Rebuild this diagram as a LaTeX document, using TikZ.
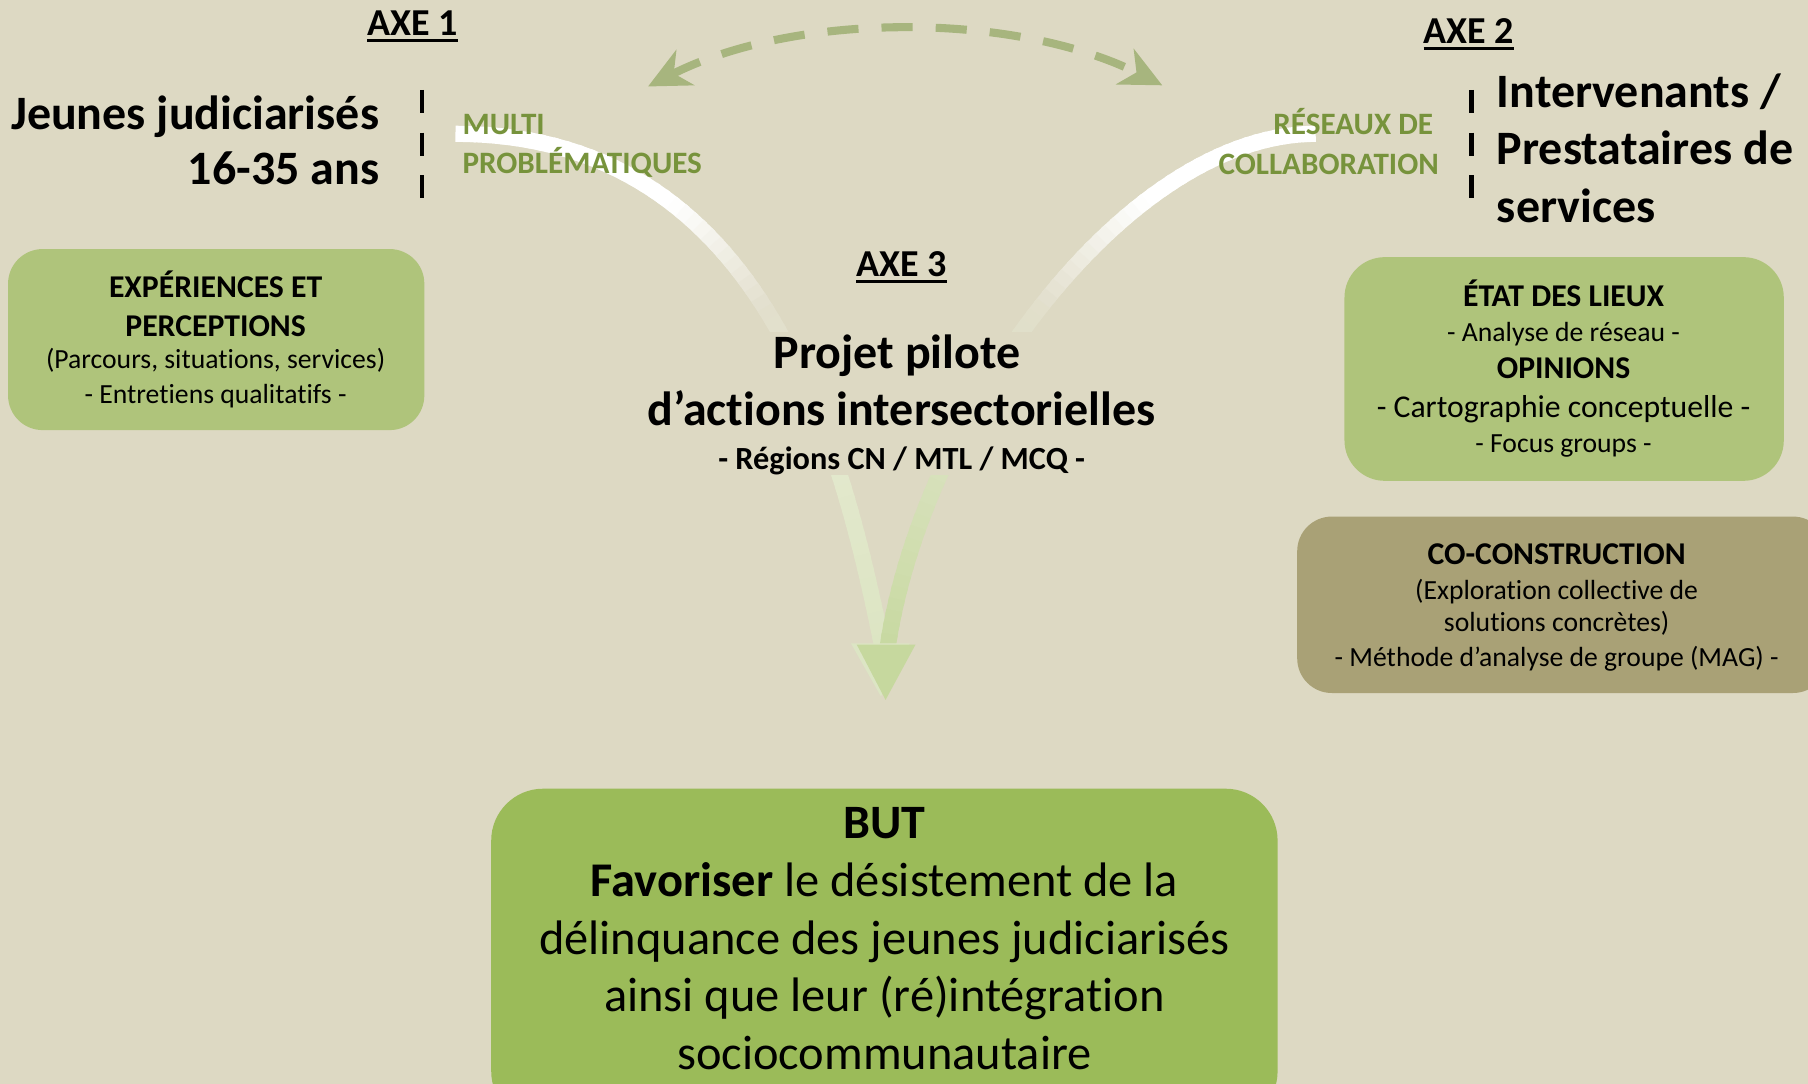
\documentclass[tikz,border=0pt]{standalone}
\usepackage{fontspec}
\setmainfont{Carlito}[Ligatures={NoCommon}]
\usetikzlibrary{arrows.meta}
\definecolor{bg}{HTML}{DDD9C3}
\definecolor{gtext}{HTML}{77933C}
\definecolor{boxlight}{HTML}{AFC47B}
\definecolor{boxbut}{HTML}{9BBB59}
\definecolor{boxco}{HTML}{A9A176}
\definecolor{dashc}{HTML}{A7B57E}
\definecolor{headc}{HTML}{C6D89E}
\definecolor{headl}{HTML}{DCE5C4}
\definecolor{clowA}{HTML}{E3E8CD}
\definecolor{clowB}{HTML}{DCE5C3}
\colorlet{cmid}{bg!85!white}
\newcommand\myfs[2]{\fontsize{#1}{#2}\selectfont}
\newcommand\gradcurveZ[8]{%
  \foreach \i in {0,...,59}{%
    \pgfmathsetmacro\ta{\i/60}%
    \pgfmathsetmacro\tb{min(1,(\i+1.4)/60)}%
    \pgfmathsetmacro\tm{(\i+0.5)/60}%
    \pgfmathsetmacro\ua{1-\ta}%
    \pgfmathsetmacro\ub{1-\tb}%
    \pgfmathsetmacro\xa{\ua*\ua*\ua*#1+3*\ua*\ua*\ta*#3+3*\ua*\ta*\ta*#5+\ta*\ta*\ta*#7}%
    \pgfmathsetmacro\ya{\ua*\ua*\ua*#2+3*\ua*\ua*\ta*#4+3*\ua*\ta*\ta*#6+\ta*\ta*\ta*#8}%
    \pgfmathsetmacro\xb{\ub*\ub*\ub*#1+3*\ub*\ub*\tb*#3+3*\ub*\tb*\tb*#5+\tb*\tb*\tb*#7}%
    \pgfmathsetmacro\yb{\ub*\ub*\ub*#2+3*\ub*\ub*\tb*#4+3*\ub*\tb*\tb*#6+\tb*\tb*\tb*#8}%
    \ifdim\tm pt<0.3pt \colorlet{segc}{white}%
    \else\ifdim\tm pt<0.5pt \pgfmathtruncatemacro\pp{100*(\tm-0.3)/0.2}\colorlet{segc}{cmid!\pp!white}%
    \else\ifdim\tm pt<0.72pt \pgfmathtruncatemacro\pp{100*(\tm-0.5)/0.22}\colorlet{segc}{clowA!\pp!cmid}%
    \else \pgfmathtruncatemacro\pp{100*(\tm-0.72)/0.28}\colorlet{segc}{clowB!\pp!clowA}%
    \fi\fi\fi
    \draw[segc, line width=14pt] (\xa,\ya) -- (\xb,\yb);
  }%
}
\begin{document}
\begin{tikzpicture}[x=1pt,y=-1pt,
  txt/.style={inner sep=0pt, anchor=base},
  bigtxt/.style={txt, font=\myfs{41.6}{50}\bfseries},
  bigreg/.style={txt, font=\myfs{42}{50}},
  axetxt/.style={txt, font=\myfs{33}{40}\bfseries},
  gtxt/.style={txt, font=\myfs{27}{34}\bfseries, text=gtext},
  boxhead/.style={txt, font=\myfs{27.5}{34}\bfseries},
  boxreg/.style={txt, font=\myfs{24}{30}},
  boxshape/.style={inner sep=0pt, draw=none},
  vdash/.style={line width=4pt, dash pattern=on 20pt off 17pt},
  uline/.style={line width=2.5pt},
  tipS/.tip={Stealth[length=36pt,width=34pt,inset=11pt]}
]
\useasboundingbox (0,0) rectangle (1568,940);
\fill[bg] (0,0) rectangle (1568,940);

% dashed double arrow between the axes
\coordinate (dl) at (562,75);
\coordinate (dr) at (1008,74);
\draw[dashc, line width=7pt, dash pattern=on 27pt off 20pt, tipS-tipS]
  (dl) .. controls (690,10) and (880,10) .. (dr);

% curved gradient arrows converging to the goal
\gradcurveZ{395}{116}{655}{116}{727}{370}{765}{560}
\definecolor{clowA}{HTML}{D9E2BF}
\definecolor{clowB}{HTML}{C8D9A1}
\gradcurveZ{1141}{116}{976}{116}{800}{360}{770}{560}
\coordinate (hl1) at (738,558);
\coordinate (hl2) at (789,558);
\coordinate (hl3) at (764,604);
\fill[headl] (hl1) -- (hl2) -- (hl3) -- cycle;
\coordinate (hr1) at (743,559);
\coordinate (hr2) at (794,559);
\coordinate (hr3) at (768,607);
\fill[headc] (hr1) -- (hr2) -- (hr3) -- cycle;

% opaque area of the central text
\fill[bg] (552,288) rectangle (1012,412);

% AXE 1
\node[axetxt] (ax1) at (358,30.6) {AXE 1};
\draw[uline] ([yshift=-4.5pt]ax1.base west) -- ([yshift=-4.5pt]ax1.base east);
\node[bigtxt, anchor=base east] (j1) at (329,112) {Jeunes judiciarisés};
\node[bigtxt, anchor=base east] (j2) at (329,160) {16-35 ans};
\coordinate (v1a) at (366,78);
\coordinate (v1b) at (366,172);
\draw[vdash] (v1a) -- (v1b);
\node[gtxt, anchor=base west] (m1) at (401,116.6) {MULTI};
\node[gtxt, anchor=base west] (m2) at (401,150.6) {PROBLÉMATIQUES};

% AXE 2
\node[axetxt] (ax2) at (1274,37.6) {AXE 2};
\draw[uline] ([yshift=-4.5pt]ax2.base west) -- ([yshift=-4.5pt]ax2.base east);
\node[gtxt, anchor=base east] (r1) at (1243,117) {RÉSEAUX DE};
\node[gtxt, anchor=base east] (r2) at (1248,151) {COLLABORATION};
\coordinate (v2a) at (1276,78);
\coordinate (v2b) at (1276,172);
\draw[vdash] (v2a) -- (v2b);
\node[bigtxt, anchor=base west] (i1) at (1298,93) {Intervenants /};
\node[bigtxt, anchor=base west] (i2) at (1298,143) {Prestataires de};
\node[bigtxt, anchor=base west] (i3) at (1298,193) {services};

% AXE 3
\node[axetxt] (ax3) at (782,239.6) {AXE 3};
\draw[uline] ([yshift=-4.5pt]ax3.base west) -- ([yshift=-4.5pt]ax3.base east);
\node[bigtxt] (p1) at (778,320) {Projet pilote};
\node[bigtxt] (p2) at (782,369) {d’actions intersectorielles};
\node[txt, font=\myfs{28}{34}\bfseries] (p3) at (782,407) {- Régions CN / MTL / MCQ -};

% left box
\node[boxshape, fill=boxlight, rounded corners=30pt, minimum width=361pt, minimum height=157pt] (boxA) at (187.5,294.5) {};
\node[boxhead] (a1) at (187,257.6) {EXPÉRIENCES ET};
\node[boxhead] (a2) at (187,291.6) {PERCEPTIONS};
\node[boxreg] (a3) at (187,320) {(Parcours, situations, services)};
\node[boxreg] (a4) at (187,350) {- Entretiens qualitatifs -};

% right box
\node[boxshape, fill=boxlight, rounded corners=35pt, minimum width=381pt, minimum height=194pt] (boxB) at (1356.5,320) {};
\node[boxhead] (b1) at (1356,265.6) {ÉTAT DES LIEUX};
\node[boxreg] (b2) at (1356,296) {- Analyse de réseau -};
\node[boxhead] (b3) at (1356,328.6) {OPINIONS};
\node[txt, font=\myfs{27.5}{34}] (b4) at (1356,362) {- Cartographie conceptuelle -};
\node[boxreg] (b5) at (1356,392) {- Focus groups -};

\begin{scope}
\clip (0,0) rectangle (1568,940);
% co-construction box
\node[boxshape, fill=boxco, rounded corners=30pt, minimum width=460pt, minimum height=153pt] (boxC) at (1355,524.5) {};
% goal box
\node[boxshape, fill=boxbut, rounded corners=45pt, minimum width=682pt, minimum height=290pt] (boxD) at (767,829) {};
\end{scope}
\node[boxhead] (c1) at (1350,489.6) {CO-CONSTRUCTION};
\node[boxreg] (c2) at (1350,520) {(Exploration collective de};
\node[boxreg] (c3) at (1350,548) {solutions concrètes)};
\node[boxreg] (c4) at (1350,578) {- Méthode d’analyse de groupe (MAG) -};

\node[bigtxt] (d1) at (767,727.4) {BUT};
\node[bigreg] (d2) at (767,777.6) {\textbf{Favoriser} le désistement de la};
\node[bigreg] (d3) at (767,827.6) {délinquance des jeunes judiciarisés};
\node[bigreg] (d4) at (767,877.6) {ainsi que leur (ré)intégration};
\node[bigreg] (d5) at (767,927.6) {sociocommunautaire};
\end{tikzpicture}
\end{document}
